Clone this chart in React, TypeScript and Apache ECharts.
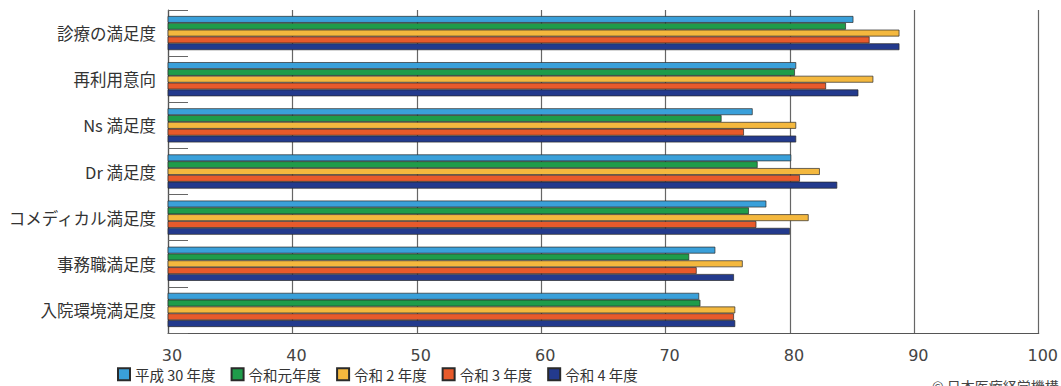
import React, { useEffect, useRef } from "react";
import * as echarts from "echarts";

// Survey items (top to bottom)
const categories = [
  "診療の満足度",
  "再利用意向",
  "Ns 満足度",
  "Dr 満足度",
  "コメディカル満足度",
  "事務職満足度",
  "入院環境満足度",
];

// Fiscal years
const seriesNames = ["平成 30 年度", "令和元年度", "令和 2 年度", "令和 3 年度", "令和 4 年度"];
const seriesColors = ["#3aa0da", "#1f9c4a", "#f4b83e", "#e85a2b", "#233a8d"];

// Satisfaction scores per year, in category order
const h30 = [85.1, 80.5, 77.0, 80.1, 78.1, 74.0, 72.7];
const r1 = [84.5, 80.4, 74.5, 77.4, 76.7, 71.9, 72.8];
const r2 = [88.8, 86.7, 80.5, 82.4, 81.5, 76.2, 75.6];
const r3 = [86.4, 82.9, 76.3, 80.8, 77.3, 72.5, 75.5];
const r4 = [88.8, 85.5, 80.5, 83.8, 80.0, 75.5, 75.6];

const seriesValues = [h30, r1, r2, r3, r4];

// X axis range
const xMin = 30;
const xMax = 100;
const xStep = 10;

export default function App() {
  const ref = useRef<HTMLDivElement>(null);

  useEffect(() => {
    // full-bleed chart: drop the default page margin and scrollbars
    document.body.style.margin = "0";
    document.body.style.overflow = "hidden";
    if (!ref.current) return;
    const chart = echarts.init(ref.current, null, { renderer: "svg" });
    chart.setOption({
      animation: false,
      backgroundColor: "#ffffff",
      grid: { left: 168, right: 21, top: 10, height: 323, containLabel: false },
      legend: {
        left: 112,
        top: 362,
        itemWidth: 12,
        itemHeight: 12,
        itemGap: 15,
        icon: "rect",
        textStyle: {
          fontFamily: "Noto Sans CJK JP",
          fontSize: 14.5,
          color: "#333",
        },
        data: seriesNames,
      },
      xAxis: {
        type: "value",
        min: xMin,
        max: xMax,
        interval: xStep,
        axisLine: { show: true, lineStyle: { color: "#555", width: 1.2 } },
        axisTick: { show: false },
        splitLine: { show: true, lineStyle: { color: "#666", width: 1.2 } },
        axisLabel: {
          margin: 14,
          fontFamily: "DejaVu Sans",
          fontSize: 16,
          color: "#444",
          padding: [0, 0, 0, 8],
        },
      },
      yAxis: {
        type: "category",
        inverse: true,
        data: categories,
        axisLine: { show: true, lineStyle: { color: "#555", width: 1.2 } },
        axisTick: { show: true, inside: true, length: 20, lineStyle: { color: "#666", width: 1 } },
        axisLabel: {
          margin: 12,
          fontFamily: "Noto Sans CJK JP",
          fontSize: 16.5,
          color: "#333",
        },
      },
      series: seriesNames.map((name, i) => ({
        name,
        type: "bar",
        data: seriesValues[i],
        barGap: "0%",
        barCategoryGap: "26%",
        itemStyle: {
          color: seriesColors[i],
          borderColor: "#2a2a2a",
          borderWidth: 0.7,
        },
      })),
      graphic: [
        {
          type: "text",
          left: 932,
          top: 379,
          style: {
            text: "© 日本医療経営機構",
            fontFamily: "Noto Sans CJK JP",
            fontSize: 14,
            fill: "#444",
          },
        },
      ],
    });
    return () => chart.dispose();
  }, []);

  return <div ref={ref} style={{ width: 1061, height: 386 }} />;
}
